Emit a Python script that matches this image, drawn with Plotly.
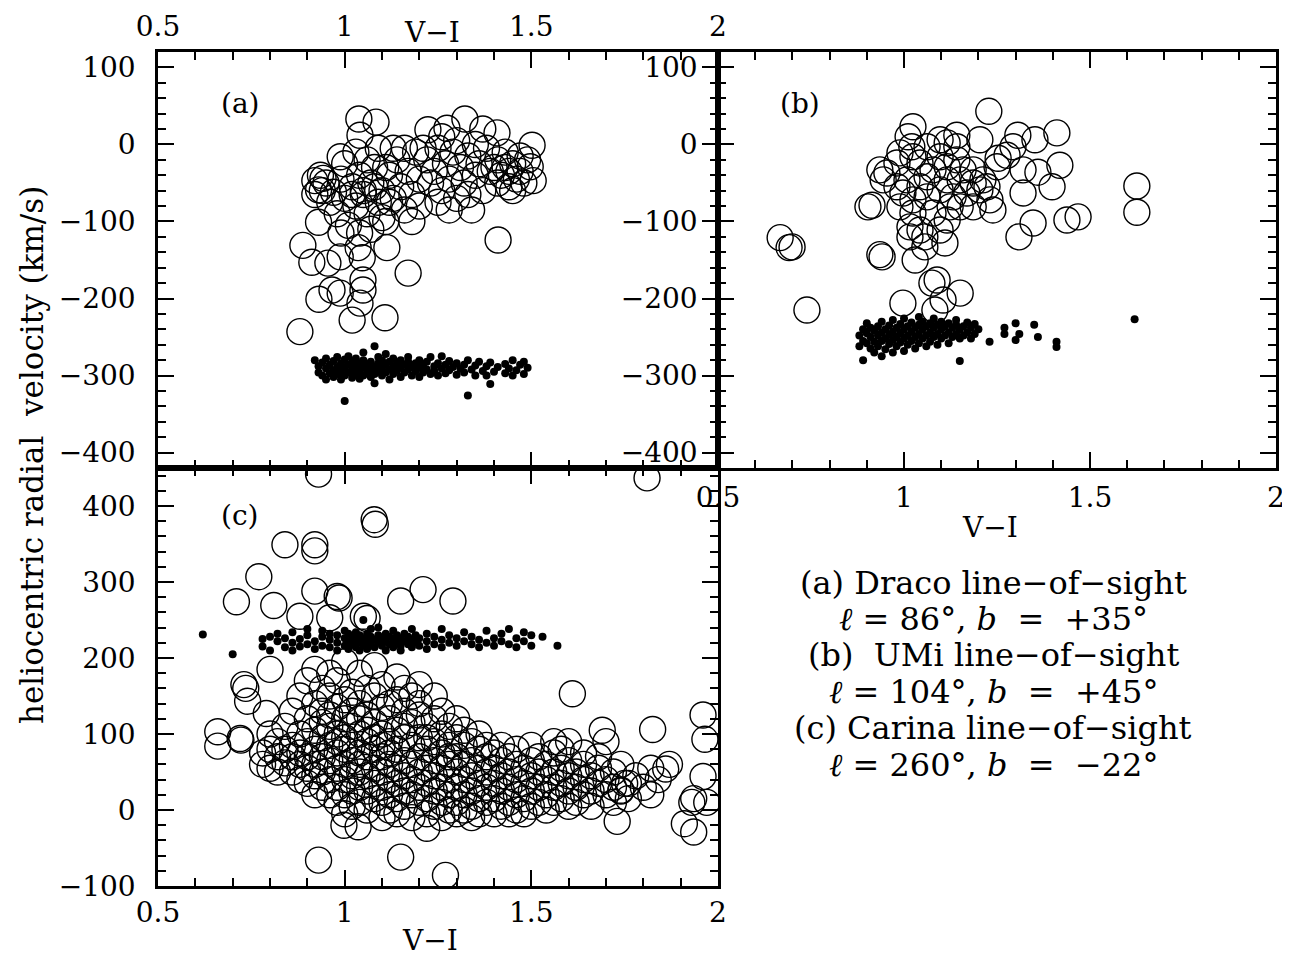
import plotly.graph_objects as go

# ---------------- data ----------------
# Panel (a): Draco line-of-sight. Open circles = field stars, dots = Draco members
a_open = [
    (1.038, 33), (1.084, 29), (1.322, 33), (1.223, 19), (1.274, 21), (1.37, 20), (1.408, 15),
    (1.502, -1), (1.497, -29), (1.505, -47), (1.041, 12), (0.988, -16), (0.942, -44), (0.93, -59),
    (0.93, -101), (0.888, -131), (0.912, -153), (0.955, -154), (0.988, -146), (1.036, -134),
    (1.113, -134), (1.047, -147), (1.17, -167), (1.411, -124), (0.966, -189), (0.931, -201),
    (0.988, -193), (1.049, -176), (1.049, -189), (1.041, -206), (1.02, -228), (1.108, -225),
    (0.88, -243), (0.92, -47), (0.935, -40),
    (0.95, -50), (0.97, -62), (0.99, -45), (1.0, -70), (1.02, -55), (1.03, -80), (1.04, -40),
    (1.05, -65), (1.06, -90), (1.07, -50), (1.08, -30), (1.09, -75), (1.1, -60), (1.11, -100),
    (1.12, -40), (1.13, -70), (1.14, -20), (1.15, -55), (1.16, -85), (1.17, -35), (1.18, -65),
    (1.19, -10), (1.2, -45), (0.96, -75), (0.98, -90), (1.0, -25), (1.01, -105), (1.03, -10),
    (1.04, -115), (1.06, -20), (1.07, -110), (1.09, -5), (1.1, -95), (1.12, -75), (1.13, -5),
    (1.05, -60), (1.08, -55), (1.02, -65), (0.94, -60), (0.92, -65), (0.99, -115), (1.11, -30),
    (1.16, -5), (1.2, -80), (1.18, -100),
    (1.22, -20), (1.24, -35), (1.25, -5), (1.26, -60), (1.27, -25), (1.28, -45), (1.29, -10),
    (1.3, -70), (1.31, -30), (1.32, -50), (1.33, -15), (1.34, -85), (1.35, -40), (1.36, -25),
    (1.37, -60), (1.38, -5), (1.39, -35), (1.23, -50), (1.25, -75), (1.28, -85), (1.3, 5),
    (1.33, -65), (1.21, -5), (1.26, 10), (1.35, 0),
    (1.41, -20), (1.42, -40), (1.43, -30), (1.44, -55), (1.45, -25), (1.46, -45), (1.47, -35),
    (1.48, -50), (1.49, -20), (1.41, -50), (1.43, -10), (1.45, -60), (1.47, -15), (1.4, -30),
    (1.44, -35),
]
a_dots = [
    (0.92, [-280]), (0.93, [-288, -296]), (0.94, [-283, -300]), (0.95, [-291, -278, -305]),
    (0.96, [-286, -297]), (0.97, [-281, -293, -302]), (0.98, [-289, -276, -298]),
    (0.99, [-284, -295, -305]), (1.00, [-279, -290, -300, -333]), (1.01, [-286, -296, -275]),
    (1.02, [-282, -292, -303]), (1.03, [-288, -298, -278]), (1.04, [-284, -294, -304]),
    (1.05, [-280, -290, -300, -270]), (1.06, [-286, -296]), (1.07, [-282, -292, -302]),
    (1.08, [-288, -298, -262, -310]), (1.09, [-284, -294, -276]), (1.10, [-280, -290, -300]),
    (1.11, [-286, -296, -272]), (1.12, [-282, -292, -305]), (1.13, [-288, -298, -278]),
    (1.14, [-284, -294]), (1.15, [-280, -290, -302]), (1.16, [-286, -296]),
    (1.17, [-282, -292, -276]), (1.18, [-288, -300]), (1.19, [-284, -294]),
    (1.20, [-280, -290, -302]), (1.21, [-286, -296]), (1.22, [-282, -292]), (1.23, [-276, -298]),
    (1.24, [-288, -294]), (1.25, [-284, -300]), (1.26, [-275, -291]), (1.27, [-286, -297]),
    (1.28, [-281, -293]), (1.29, [-289]), (1.30, [-284, -299]), (1.31, [-291]),
    (1.32, [-286, -296]), (1.33, [-280, -326]), (1.34, [-292]), (1.35, [-287, -300]),
    (1.36, [-282]), (1.37, [-294]), (1.38, [-288, -300]), (1.39, [-283, -311]), (1.40, [-295]),
    (1.41, [-289]), (1.43, [-285, -297]), (1.44, [-291]), (1.45, [-280, -300]), (1.46, [-293]),
    (1.47, [-286]), (1.48, [-298, -282]), (1.49, [-290]),
]

# Panel (b): UMi line-of-sight
b_open = [
    (1.228, 43), (1.024, 23), (1.011, 10), (1.021, -3), (1.411, 15), (1.352, 6), (1.306, 12),
    (1.293, -3), (1.277, -14), (1.253, -18), (1.204, 6), (1.142, 12), (1.116, 2), (1.419, -27),
    (1.398, -55), (1.36, -36), (1.32, -33), (1.32, -63), (1.468, -94), (1.438, -98),
    (1.347, -102), (1.309, -120), (1.626, -54), (1.626, -88), (0.667, -121), (0.691, -134),
    (0.699, -133), (0.739, -215), (0.914, -79), (0.903, -81), (0.941, -146), (0.935, -143),
    (1.03, -150), (1.056, -133), (1.11, -128), (1.089, -176), (1.075, -180), (1.151, -193),
    (1.105, -202), (0.997, -206), (1.083, -215),
    (0.954, -37), (0.981, -24), (1.008, -46), (1.043, -24), (1.062, -42), (1.097, -16),
    (1.116, -29), (1.142, -20), (1.151, -46), (1.186, -50), (1.204, -59), (1.231, -72),
    (1.239, -85), (1.186, -81), (1.132, -68), (1.097, -59), (1.062, -68), (1.024, -72),
    (0.997, -63), (0.981, -55), (0.944, -46), (0.935, -33), (1.016, -107), (1.043, -111),
    (1.116, -98), (1.097, -111), (1.151, -81), (1.078, -89), (1.024, -89), (1.142, -3),
    (1.097, 6), (1.159, -33), (1.186, -33), (1.212, -46), (1.062, -3), (1.024, -16),
    (0.989, -11), (1.116, -46), (1.078, -33), (1.043, -55), (1.169, -63), (1.223, -55),
    (1.25, -29), (1.124, -81), (0.989, -81), (1.056, -120), (1.016, -120),
]
b_dots = [
    (0.88, [-248, -262]), (0.89, [-240, -255, -280]), (0.90, [-245, -258, -232]),
    (0.91, [-250, -265, -238]), (0.92, [-242, -256, -270]), (0.93, [-236, -248, -262]),
    (0.94, [-244, -255, -230, -275]), (0.95, [-240, -252, -266]), (0.96, [-235, -247, -259]),
    (0.97, [-243, -254, -228, -270]), (0.98, [-238, -250, -262]), (0.99, [-233, -245, -257]),
    (1.00, [-240, -252, -226, -268]), (1.01, [-236, -248, -260]), (1.02, [-231, -243, -255]),
    (1.03, [-238, -250, -265]), (1.04, [-234, -246, -224, -258]), (1.05, [-240, -252, -230]),
    (1.06, [-236, -248, -262]), (1.07, [-232, -244, -256]), (1.08, [-238, -250, -226]),
    (1.09, [-234, -246, -260]), (1.10, [-240, -252, -230]), (1.11, [-236, -248]),
    (1.12, [-232, -244, -258]), (1.13, [-238, -250]), (1.14, [-234, -246, -228]),
    (1.15, [-240, -252, -281]), (1.16, [-236, -248]), (1.17, [-231, -244]), (1.18, [-238, -252]),
    (1.19, [-233, -246]), (1.20, [-240]), (1.23, [-256]), (1.27, [-238, -246]),
    (1.30, [-232, -254]), (1.31, [-246]), (1.35, [-234]), (1.36, [-250]), (1.41, [-256, -263]),
    (1.62, [-227]),
]

# Panel (c): Carina line-of-sight
c_open_outliers = [
    (0.93, 442), (1.81, 437), (1.079, 382), (1.082, 376), (0.84, 349), (0.92, 349), (0.92, 341),
    (0.77, 307), (0.71, 274), (0.81, 269), (0.92, 288), (0.98, 281), (0.985, 279), (1.15, 275),
    (1.21, 290), (1.29, 275), (0.88, 255), (0.96, 253), (1.05, 255), (1.06, 252), (0.80, 185),
    (0.73, 165), (0.735, 160), (0.74, 143), (0.79, 127), (0.66, 103), (0.66, 84), (0.72, 94),
    (0.722, 92), (1.61, 153), (1.825, 106), (1.96, 125), (1.965, 93), (1.96, 44), (1.93, 10),
    (1.935, 15), (1.935, -29), (1.91, -18), (1.97, 10), (0.93, -66), (1.15, -62), (1.27, -86),
    (0.998, -20), (1.036, -22), (1.22, -24), (1.73, -15), (1.74, 26), (1.86, 54), (1.87, 60),
    (1.75, 35), (1.69, 105),
]
c_open_cols = [
    (0.78, [75, 60]), (0.80, [80, 55, 100]), (0.82, [70, 90, 50]), (0.84, [62, 110, 80]),
    (0.86, [85, 50, 130, 70]), (0.88, [100, 60, 75, 150, 40]), (0.90, [120, 90, 55, 70, 170, 35]),
    (0.92, [140, 105, 80, 60, 45, 20, 185]), (0.94, [130, 95, 70, 115, 50, 30, 160]),
    (0.96, [150, 110, 85, 65, 40, 20, 180, 125]), (0.98, [135, 100, 75, 55, 30, 10, 170, 90]),
    (1.00, [120, 95, 60, 40, 20, -5, 145, 80, 195]), (1.02, [155, 110, 85, 65, 45, 25, 5, 130]),
    (1.04, [140, 100, 75, 50, 30, 10, 180, 120, 60]), (1.06, [125, 90, 70, 45, 25, 0, 160, 105]),
    (1.08, [150, 115, 80, 55, 35, 15, 95, 190]), (1.10, [135, 100, 70, 50, 30, 10, -10, 85, 165]),
    (1.12, [120, 90, 60, 40, 20, 0, 140, 75]), (1.14, [145, 105, 80, 55, 35, 15, -5, 175]),
    (1.16, [130, 95, 65, 45, 25, 5, 110, 160]), (1.18, [115, 85, 60, 40, 20, -10, 150]),
    (1.20, [125, 95, 70, 50, 30, 10, 140, 165]), (1.22, [110, 80, 55, 35, 15, -5, 95]),
    (1.24, [120, 90, 65, 45, 25, 5, 150]), (1.26, [100, 75, 55, 30, 10, -10, 130]),
    (1.28, [110, 85, 60, 40, 20, 0, 70]), (1.30, [95, 70, 50, 30, 10, -5, 120]),
    (1.32, [85, 60, 40, 20, 0, 105]), (1.34, [90, 65, 45, 25, 5, -10]),
    (1.36, [80, 55, 35, 15, -5, 100]), (1.38, [70, 50, 30, 10, 85]), (1.40, [75, 55, 35, 15, -5]),
    (1.42, [65, 45, 25, 5, 85]), (1.44, [70, 50, 30, 10, -5]), (1.46, [60, 40, 20, 0, 80]),
    (1.48, [55, 35, 15, -5]), (1.50, [65, 45, 25, 5, 85]), (1.52, [50, 30, 10, 70]),
    (1.54, [60, 40, 20, 0]), (1.56, [75, 50, 30, 10, 90]), (1.58, [55, 35, 15, 80]),
    (1.60, [65, 45, 25, 5, 90]), (1.62, [50, 30, 10]), (1.64, [60, 40, 20, 75]),
    (1.66, [45, 25, 5]), (1.68, [55, 35, 70]), (1.70, [40, 20, 90]), (1.72, [50, 30, 10]),
    (1.74, [60, 25]), (1.76, [35, 15]), (1.78, [45]), (1.80, [30]), (1.82, [55, 20]), (1.84, [40]),
]
c_dots = [
    (0.62, [231]), (0.70, [205]), (0.78, [215, 225]), (0.80, [210, 228]), (0.82, [222, 232]),
    (0.84, [214, 226]), (0.86, [220, 234, 210]), (0.88, [225, 215]), (0.90, [230, 218, 238]),
    (0.92, [222, 212]), (0.94, [228, 216, 236]), (0.96, [224, 214, 232]), (0.98, [220, 230, 210]),
    (1.00, [226, 216, 236]), (1.01, [222, 232, 212]), (1.02, [228, 218]), (1.03, [224, 214, 234]),
    (1.04, [220, 230, 210]), (1.05, [226, 216, 250]), (1.06, [222, 232, 212]),
    (1.07, [228, 218, 238]), (1.08, [224, 214]), (1.09, [220, 230, 240]), (1.10, [226, 216]),
    (1.11, [222, 232, 210]), (1.12, [228, 218]), (1.13, [224, 214, 236]), (1.14, [220, 230]),
    (1.15, [226, 216, 210]), (1.16, [222, 232]), (1.17, [228, 218]), (1.18, [224, 214, 238]),
    (1.19, [220, 230]), (1.20, [226, 216]), (1.22, [222, 232, 212]), (1.24, [228, 218]),
    (1.26, [224, 214, 238]), (1.28, [220, 230]), (1.30, [226, 216]), (1.32, [222, 234]),
    (1.34, [228, 218]), (1.36, [224, 214]), (1.38, [220, 236]), (1.40, [226, 216]),
    (1.42, [232, 222]), (1.44, [218, 238]), (1.46, [226, 214]), (1.48, [222, 234]),
    (1.50, [230, 216]), (1.53, [228]), (1.57, [216]),
]

tick_vals_x = [0.5, 1, 1.5, 2]
tick_text_x = ["0.5", "1", "1.5", "2"]
tick_vals_ab = [100, 0, -100, -200, -300, -400]
tick_vals_c = [400, 300, 200, 100, 0, -100]

info_lines = [
    "(a) Draco line\u2212of\u2212sight",
    "<i>\u2113</i> = 86\u00b0, <i>b</i>\u00a0 =\u00a0 +35\u00b0",
    "(b)\u00a0 UMi line\u2212of\u2212sight",
    "<i>\u2113</i> = 104\u00b0, <i>b</i>\u00a0 =\u00a0 +45\u00b0",
    "(c) Carina line\u2212of\u2212sight",
    "<i>\u2113</i> = 260\u00b0, <i>b</i>\u00a0 =\u00a0 \u221222\u00b0",
]

# ---------------- helpers ----------------
def unzip_pairs(pairs):
    return [p[0] for p in pairs], [p[1] for p in pairs]

def unzip_cols(cols):
    xs, ys = [], []
    for x, yl in cols:
        for y in yl:
            xs.append(x)
            ys.append(y)
    return xs, ys

FONT = "DejaVu Serif"
OFF = 8                      # default page margin of the html body
W, H = 1290 - OFF, 961 - OFF

def px(x):
    return (x - OFF) / W

def py(y):
    return 1 - (y - OFF) / H

open_marker = dict(symbol="circle-open", size=26, color="black", line=dict(width=1.4, color="black"))
dot_marker = dict(symbol="circle", size=8, color="black")

fig = go.Figure()

ax, ay = unzip_pairs(a_open)
fig.add_trace(go.Scatter(x=ax, y=ay, mode="markers", marker=open_marker, xaxis="x", yaxis="y"))
dx, dy = unzip_cols(a_dots)
fig.add_trace(go.Scatter(x=dx, y=dy, mode="markers", marker=dot_marker, xaxis="x", yaxis="y"))

bx, by = unzip_pairs(b_open)
fig.add_trace(go.Scatter(x=bx, y=by, mode="markers", marker=open_marker, xaxis="x2", yaxis="y2"))
dx, dy = unzip_cols(b_dots)
fig.add_trace(go.Scatter(x=dx, y=dy, mode="markers", marker=dot_marker, xaxis="x2", yaxis="y2"))

cx1, cy1 = unzip_pairs(c_open_outliers)
cx2, cy2 = unzip_cols(c_open_cols)
fig.add_trace(go.Scatter(x=cx1 + cx2, y=cy1 + cy2, mode="markers", marker=open_marker,
                         xaxis="x3", yaxis="y3"))
dx, dy = unzip_cols(c_dots)
fig.add_trace(go.Scatter(x=dx, y=dy, mode="markers", marker=dot_marker, xaxis="x3", yaxis="y3"))

tickfont = dict(family=FONT, size=28, color="black")

def minor(dt, t0):
    return dict(ticks="inside", ticklen=8, tickwidth=1.5, tickcolor="black",
                dtick=dt, tick0=t0, showgrid=False)

def axis_common(standoff, **kw):
    d = dict(showline=True, linecolor="black", linewidth=2.5, mirror="ticks",
             ticks="inside", ticklen=16, tickwidth=1.5, tickcolor="black",
             showgrid=False, zeroline=False, tickfont=tickfont, automargin=False,
             ticklabelstandoff=standoff)
    d.update(kw)
    return d

XL, XM, XR = px(158), px(718), px(1276)
YT, YM, YB = py(52), py(468), py(886)

xr = [0.4999, 2.0001]

fig.update_layout(
    width=W, height=H,
    margin=dict(l=0, r=0, t=0, b=0, autoexpand=False),
    paper_bgcolor="white", plot_bgcolor="white",
    showlegend=False,
    xaxis=axis_common(2, domain=[XL, XM], anchor="y", range=xr, side="top",
                      tickvals=tick_vals_x, ticktext=tick_text_x, minor=minor(0.1, 0.5)),
    yaxis=axis_common(14, domain=[YM, YT], anchor="x", range=[-420, 120],
                      tickvals=tick_vals_ab, minor=minor(20, 0)),
    xaxis2=axis_common(3, domain=[XM, XR], anchor="y2", range=xr, side="bottom",
                       tickvals=tick_vals_x, ticktext=tick_text_x, minor=minor(0.1, 0.5)),
    yaxis2=axis_common(12, domain=[YM, YT], anchor="x2", range=[-420, 120],
                       tickvals=tick_vals_ab, minor=minor(20, 0)),
    xaxis3=axis_common(0, domain=[XL, XM], anchor="y3", range=xr, side="bottom",
                       tickvals=tick_vals_x, ticktext=tick_text_x, minor=minor(0.1, 0.5)),
    yaxis3=axis_common(14, domain=[YB, YM], anchor="x3", range=[-100, 450],
                       tickvals=tick_vals_c, minor=minor(20, 0)),
)

annots = []
def add_text(text, x, y, size=28, xanchor="center", angle=0):
    annots.append(dict(text=text, x=px(x), y=py(y), xref="paper", yref="paper",
                       showarrow=False, xanchor=xanchor, yanchor="middle", textangle=angle,
                       font=dict(family=FONT, size=size, color="black")))

add_text("(a)", 240, 104)
add_text("(b)", 800, 104)
add_text("(c)", 240, 515)
add_text("V\u2212I", 432, 32)
add_text("V\u2212I", 990, 527)
add_text("V\u2212I", 430, 940)
add_text("heliocentric radial\u00a0\u00a0velocity (km/s)", 32, 455, size=31, angle=-90)

line_y = [583, 619, 655, 692, 728, 765]
for t, yy in zip(info_lines, line_y):
    add_text(t, 993, yy, size=32)

fig.update_layout(annotations=annots)

fig.write_html("out.html")
